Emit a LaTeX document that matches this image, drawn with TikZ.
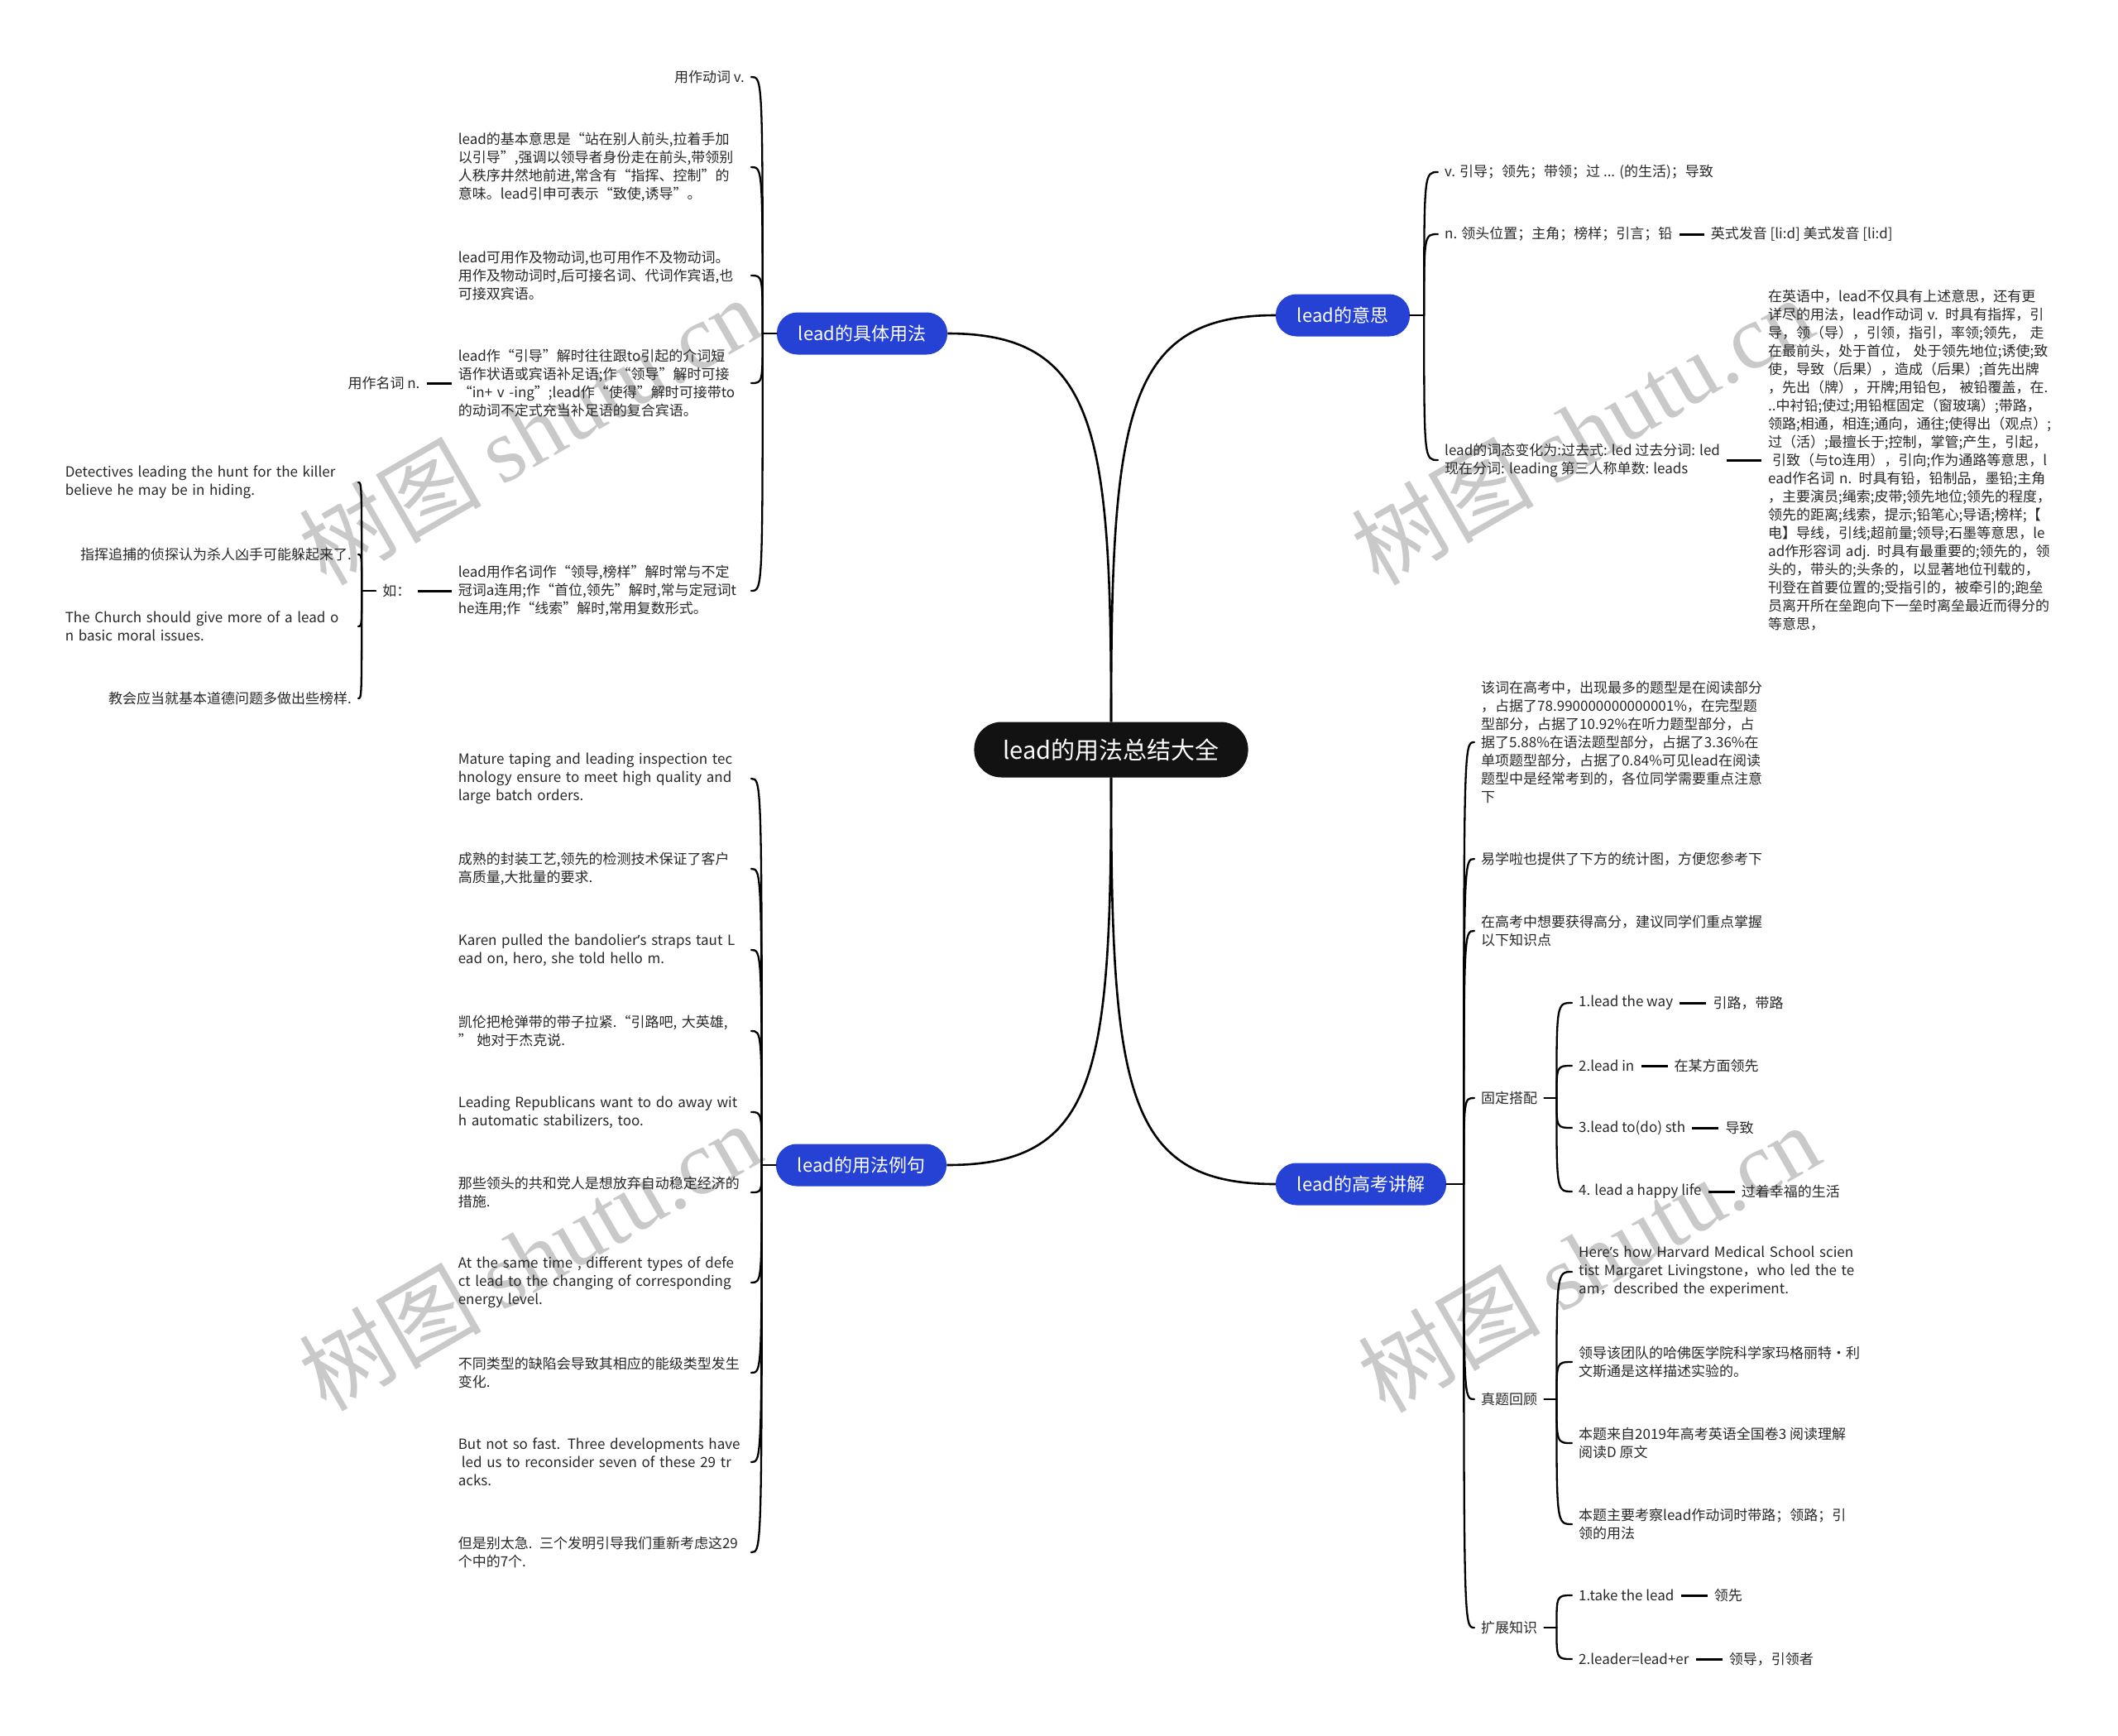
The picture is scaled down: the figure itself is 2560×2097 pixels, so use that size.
\documentclass[tikz,border=0pt]{standalone}
\usepackage{fontspec}
\setmainfont{Noto Sans CJK SC}
\newfontfamily\wmserif{Liberation Serif}
\newfontfamily\latinap{Noto Sans}
\newcommand\apos{{\latinap ’}}
\usetikzlibrary{positioning}
\definecolor{brblue}{RGB}{38,66,212}
\definecolor{rootblack}{RGB}{18,18,18}
\definecolor{txtgray}{RGB}{40,40,40}

\begin{document}
\begin{tikzpicture}[x=1pt,y=-1pt,
	root/.style={fill=rootblack,text=white,rounded corners=33pt,minimum height=67pt,inner xsep=35pt,font=\fontsize{29}{34}\selectfont},
	branch/.style={fill=brblue,text=white,rounded corners=25pt,minimum height=51pt,inner xsep=26pt,font=\fontsize{22}{26}\selectfont},
	txt/.style={text=txtgray,inner xsep=8pt,inner ysep=3pt,align=left,font=\fontsize{17}{22}\selectfont},
	blk/.style={txt,text width=#1},
	trunk/.style={line width=2.6pt},
	conn/.style={line width=2.3pt,line cap=round},
	leaf/.style={line width=3pt},
	wm/.style={text=black!21,rotate=30,font=\fontsize{110}{120}\selectfont}]

	\fill[white] (0,0) rectangle (2560,2097);
	\useasboundingbox (0,0) rectangle (2560,2097);

	\node[wm] (wm1) at (640,520)   {树图 {\wmserif shutu.cn}};
	\node[wm] (wm2) at (1912,520)  {树图 {\wmserif shutu.cn}};
	\node[wm] (wm3) at (640,1518)  {树图 {\wmserif shutu.cn}};
	\node[wm] (wm4) at (1920,1520) {树图 {\wmserif shutu.cn}};

	\node[root]   (root)  at (1343,906)  {lead的用法总结大全};
	\node[branch] (usage) at (1042,403)  {lead的具体用法};
	\node[branch] (mean)  at (1623,381)  {lead的意思};
	\node[branch] (sent)  at (1041,1408) {lead的用法例句};
	\node[branch] (exam)  at (1645,1431) {lead的高考讲解};

	\draw[trunk] (root.north) .. controls (1343,520) and (1326,403) .. (usage.east);
	\draw[trunk] (root.north) .. controls (1343,500) and (1360,381) .. (mean.west);
	\draw[trunk] (root.south) .. controls (1343,1300) and (1326,1408) .. (sent.east);
	\draw[trunk] (root.south) .. controls (1343,1320) and (1360,1431) .. (exam.west);

	\node[txt,anchor=east]     (u1) at (908,93)  {用作动词 v.};
	\node[blk=346,anchor=east] (u2) at (908,202) {lead的基本意思是“站在别人前头,拉着手加\\以引导”,强调以领导者身份走在前头,带领别\\人秩序井然地前进,常含有“指挥、控制”的\\意味。lead引申可表示“致使,诱导”。};
	\node[blk=346,anchor=east] (u3) at (908,333) {lead可用作及物动词,也可用作不及物动词。\\用作及物动词时,后可接名词、代词作宾语,也\\可接双宾语。};
	\node[blk=346,anchor=east] (u4) at (908,463) {lead作“引导”解时往往跟to引起的介词短\\语作状语或宾语补足语;作“领导”解时可接\\“in+ v -ing”;lead作“使得”解时可接带to\\的动词不定式充当补足语的复合宾语。};
	\node[blk=346,anchor=east] (u5) at (908,714) {lead用作名词作“领导,榜样”解时常与不定\\冠词a连用;作“首位,领先”解时,常与定冠词t\\he连用;作“线索”解时,常用复数形式。};
	\node[txt] (un) [left=30pt of u4] {用作名词 n.};
	\node[txt] (ru) [left=41pt of u5] {如：};

	\draw[conn] (usage.west) -- ++(-17,0) coordinate (uj);
	\foreach \ch in {u1,u2,u3,u4,u5}
		\draw[conn] (uj) .. controls (uj |- \ch.east) .. (\ch.east);
	\draw[leaf] (u4) -- (un);
	\draw[leaf] (u5) -- (ru);

	\node[blk=346,anchor=east] (r1) at (433,583) {Detectives leading the hunt for the killer\\believe he may be in hiding.};
	\node[txt,anchor=east]     (r2) at (433,670) {指挥追捕的侦探认为杀人凶手可能躲起来了.};
	\node[blk=346,anchor=east] (r3) at (433,757) {The Church should give more of a lead o\\n basic moral issues.};
	\node[txt,anchor=east]     (r4) at (433,844) {教会应当就基本道德问题多做出些榜样.};

	\draw[conn] (ru.west) -- ++(-17,0) coordinate (rj);
	\foreach \ch in {r1,r2,r3,r4}
		\draw[conn] (rj) .. controls (rj |- \ch.east) .. (\ch.east);

	\node[txt,anchor=west] (m1) at (1738,208) {v. 引导；领先；带领；过 ... (的生活)；导致};
	\node[txt,anchor=west] (m2) at (1738,283) {n. 领头位置；主角；榜样；引言；铅};
	\node[txt,anchor=west] (m3) at (1738,556) {lead的词态变化为:过去式: led 过去分词: led\\现在分词: leading 第三人称单数: leads};
	\node[txt] (m2a) [right=30pt of m2] {英式发音 [li:d] 美式发音 [li:d]};
	\node[blk=346,anchor=west] (m3a) at (2129,556) {在英语中，lead不仅具有上述意思，还有更\\详尽的用法，lead作动词 v. 时具有指挥，引\\导，领（导），引领，指引，率领;领先， 走\\在最前头，处于首位， 处于领先地位;诱使;致\\使，导致（后果），造成（后果）;首先出牌\\，先出（牌），开牌;用铅包， 被铅覆盖，在.\\..中衬铅;使过;用铅框固定（窗玻璃）;带路，\\领路;相通，相连;通向，通往;使得出（观点）;\\过（活）;最擅长于;控制，掌管;产生，引起，\\\hspace*{5pt}引致（与to连用），引向;作为通路等意思，l\\ead作名词 n. 时具有铅，铅制品，墨铅;主角\\，主要演员;绳索;皮带;领先地位;领先的程度，\\领先的距离;线索，提示;铅笔心;导语;榜样;【\\电】导线，引线;超前量;领导;石墨等意思，le\\ad作形容词 adj. 时具有最重要的;领先的，领\\头的，带头的;头条的，以显著地位刊载的，\\刊登在首要位置的;受指引的，被牵引的;跑垒\\员离开所在垒跑向下一垒时离垒最近而得分的\\等意思，};

	\draw[conn] (mean.east) -- ++(17,0) coordinate (mj);
	\foreach \ch in {m1,m2,m3}
		\draw[conn] (mj) .. controls (mj |- \ch.west) .. (\ch.west);
	\draw[leaf] (m2) -- (m2a);
	\draw[leaf] (m3) -- (m3a);

	\node[blk=346,anchor=east] (s1)  at (908,941)  {Mature taping and leading inspection tec\\hnology ensure to meet high quality and\\large batch orders.};
	\node[blk=346,anchor=east] (s2)  at (908,1050) {成熟的封装工艺,领先的检测技术保证了客户\\高质量,大批量的要求.};
	\node[blk=346,anchor=east] (s3)  at (908,1148) {Karen pulled the bandolier\apos s straps taut L\\ead on, hero, she told hello m.};
	\node[blk=346,anchor=east] (s4)  at (908,1246) {凯伦把枪弹带的带子拉紧.“引路吧, 大英雄,\\” 她对于杰克说.};
	\node[blk=346,anchor=east] (s5)  at (908,1344) {Leading Republicans want to do away wit\\h automatic stabilizers, too.};
	\node[blk=346,anchor=east] (s6)  at (908,1441) {那些领头的共和党人是想放弃自动稳定经济的\\措施.};
	\node[blk=346,anchor=east] (s7)  at (908,1550) {At the same time , different types of defe\\ct lead to the changing of corresponding\\energy level.};
	\node[blk=346,anchor=east] (s8)  at (908,1659) {不同类型的缺陷会导致其相应的能级类型发生\\变化.};
	\node[blk=346,anchor=east] (s9)  at (908,1767) {But not so fast. Three developments have\\\hspace*{4pt}led us to reconsider seven of these 29 tr\\acks.};
	\node[blk=346,anchor=east] (s10) at (908,1876) {但是别太急. 三个发明引导我们重新考虑这29\\个中的7个.};

	\draw[conn] (sent.west) -- ++(-17,0) coordinate (sj);
	\foreach \ch in {s1,s2,s3,s4,s5,s6,s7,s8,s9,s10}
		\draw[conn] (sj) .. controls (sj |- \ch.east) .. (\ch.east);

	\node[blk=380,anchor=west] (e1) at (1782,897)  {该词在高考中，出现最多的题型是在阅读部分\\，占据了78.990000000000001\%，在完型题\\型部分，占据了10.92\%在听力题型部分，占\\据了5.88\%在语法题型部分，占据了3.36\%在\\单项题型部分，占据了0.84\%可见lead在阅读\\题型中是经常考到的，各位同学需要重点注意\\下};
	\node[txt,anchor=west]     (e2) at (1782,1038) {易学啦也提供了下方的统计图，方便您参考下};
	\node[txt,anchor=west]     (e3) at (1782,1125) {在高考中想要获得高分，建议同学们重点掌握\\以下知识点};
	\node[txt,anchor=west]     (g)  at (1782,1327) {固定搭配};
	\node[txt,anchor=west]     (z)  at (1782,1691) {真题回顾};
	\node[txt,anchor=west]     (k)  at (1782,1967) {扩展知识};

	\draw[conn] (exam.east) -- ++(21,0) coordinate (ej);
	\foreach \ch in {e1,e2,e3,g,z,k}
		\draw[conn] (ej) .. controls (ej |- \ch.west) .. (\ch.west);

	\node[txt,anchor=west] (g1) at (1900,1212) {1.lead the way};
	\node[txt,anchor=west] (g2) at (1900,1288) {2.lead in};
	\node[txt,anchor=west] (g3) at (1900,1363) {3.lead to(do) sth};
	\node[txt,anchor=west] (g4) at (1900,1440) {4. lead a happy life};
	\node[txt] (g1a) [right=32pt of g1] {引路，带路};
	\node[txt] (g2a) [right=32pt of g2] {在某方面领先};
	\node[txt] (g3a) [right=32pt of g3] {导致};
	\node[txt] (g4a) [right=32pt of g4] {过着幸福的生活};

	\draw[conn] (g.east) -- ++(15,0) coordinate (gj);
	\foreach \ch in {g1,g2,g3,g4}
		\draw[conn] (gj) .. controls (gj |- \ch.west) .. (\ch.west);
	\draw[leaf] (g1) -- (g1a);
	\draw[leaf] (g2) -- (g2a);
	\draw[leaf] (g3) -- (g3a);
	\draw[leaf] (g4) -- (g4a);

	\node[blk=380,anchor=west] (z1) at (1900,1537) {Here\apos s how Harvard Medical School scien\\tist Margaret Livingstone，who led the te\\am，described the experiment.};
	\node[txt,anchor=west]     (z2) at (1900,1646) {领导该团队的哈佛医学院科学家玛格丽特·利\\文斯通是这样描述实验的。};
	\node[txt,anchor=west]     (z3) at (1900,1744) {本题来自2019年高考英语全国卷3 阅读理解\\阅读D 原文};
	\node[txt,anchor=west]     (z4) at (1900,1842) {本题主要考察lead作动词时带路；领路；引\\领的用法};

	\draw[conn] (z.east) -- ++(15,0) coordinate (zj);
	\foreach \ch in {z1,z2,z3,z4}
		\draw[conn] (zj) .. controls (zj |- \ch.west) .. (\ch.west);

	\node[txt,anchor=west] (k1) at (1900,1928) {1.take the lead};
	\node[txt,anchor=west] (k2) at (1900,2005) {2.leader=lead+er};
	\node[txt] (k1a) [right=32pt of k1] {领先};
	\node[txt] (k2a) [right=32pt of k2] {领导，引领者};

	\draw[conn] (k.east) -- ++(15,0) coordinate (kj);
	\foreach \ch in {k1,k2}
		\draw[conn] (kj) .. controls (kj |- \ch.west) .. (\ch.west);
	\draw[leaf] (k1) -- (k1a);
	\draw[leaf] (k2) -- (k2a);
\end{tikzpicture}
\end{document}
